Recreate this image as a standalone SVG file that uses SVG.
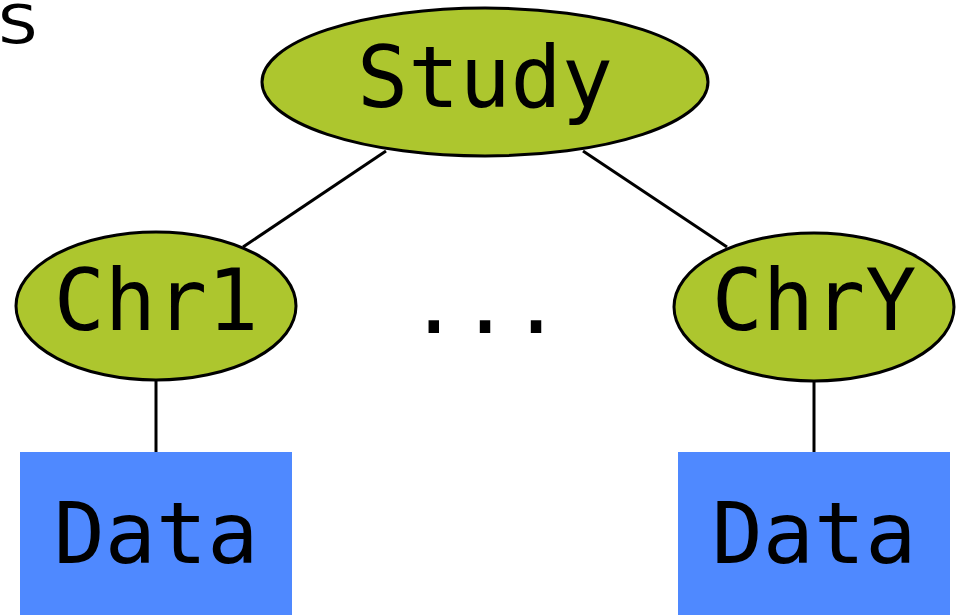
<svg xmlns="http://www.w3.org/2000/svg" width="959" height="615" viewBox="0 0 959 615">
  <style>
    .ell { fill: #adc62e; stroke: #000; stroke-width: 3; }
    .box { fill: #4f89ff; stroke: none; }
    .lbl { font-family: "DejaVu Sans Mono", "Liberation Mono", monospace; font-size: 85px; fill: #000; text-anchor: middle; }
    .edge { stroke: #000; stroke-width: 3; fill: none; }
  </style>
  <rect width="959" height="615" fill="#fff"/>
  <text transform="translate(-2,43) scale(1.15,1)" x="0" y="0" font-family="DejaVu Sans, sans-serif" font-size="54" fill="#000">S</text>
  <g id="connectors">
    <line class="edge" x1="386" y1="151" x2="243" y2="247"/>
    <line class="edge" x1="583" y1="151" x2="727" y2="247"/>
    <line class="edge" x1="156" y1="380" x2="156" y2="452"/>
    <line class="edge" x1="814" y1="381" x2="814" y2="452"/>
  </g>
  <g id="study">
    <ellipse class="ell" cx="485" cy="82" rx="223" ry="74"/>
    <text class="lbl" x="485" y="107">Study</text>
  </g>
  <g id="chr1">
    <ellipse class="ell" cx="156" cy="306" rx="140" ry="74"/>
    <text class="lbl" x="156" y="330">Chr1</text>
  </g>
  <g id="chrY">
    <ellipse class="ell" cx="814" cy="307" rx="140" ry="74"/>
    <text class="lbl" x="814" y="330">ChrY</text>
  </g>
  <g id="ellipsis">
    <text class="lbl" x="485" y="333">...</text>
  </g>
  <g id="data1">
    <rect class="box" x="20" y="452" width="272" height="163"/>
    <text class="lbl" x="156" y="563">Data</text>
  </g>
  <g id="dataY">
    <rect class="box" x="678" y="452" width="272" height="163"/>
    <text class="lbl" x="814" y="563">Data</text>
  </g>
</svg>
